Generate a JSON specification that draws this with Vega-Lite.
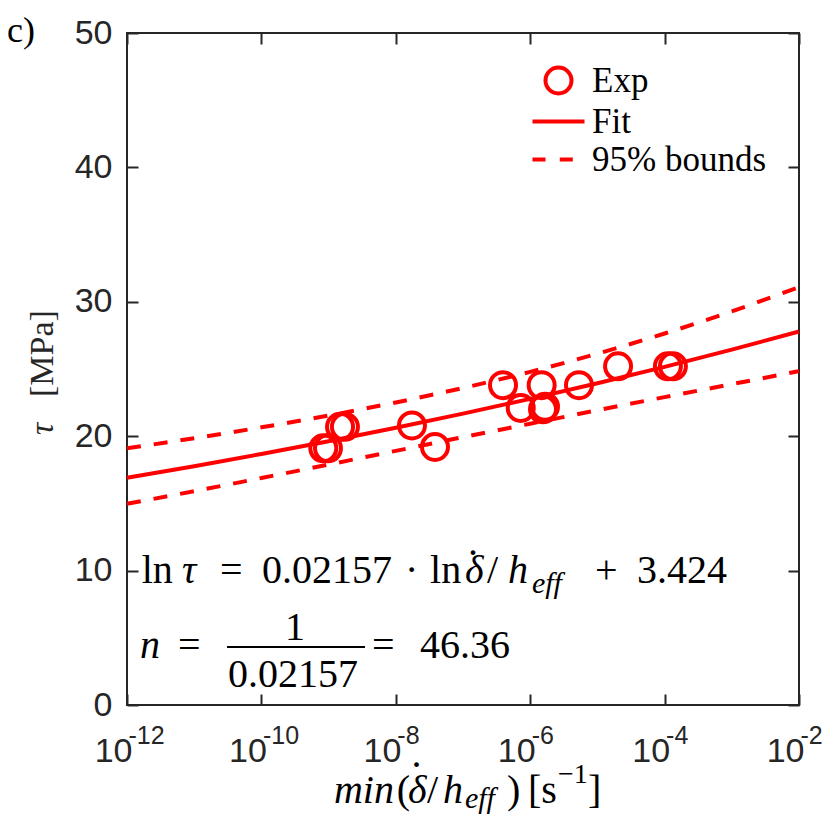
{
  "$schema": "https://vega.github.io/schema/vega-lite/v6.json",
  "width": 672,
  "height": 672,
  "autosize": {"type": "none"},
  "padding": {"left": 127, "top": 33, "right": 31, "bottom": 114},
  "background": "white",
  "datasets": {
    "exp": [
      {"rate": 8.34e-10, "tau": 19.1, "series": "Exp"},
      {"rate": 9.79e-10, "tau": 19.1, "series": "Exp"},
      {"rate": 1.48e-9, "tau": 20.7, "series": "Exp"},
      {"rate": 1.75e-9, "tau": 20.7, "series": "Exp"},
      {"rate": 1.74e-8, "tau": 20.8, "series": "Exp"},
      {"rate": 3.83e-8, "tau": 19.2, "series": "Exp"},
      {"rate": 3.94e-7, "tau": 23.8, "series": "Exp"},
      {"rate": 7.23e-7, "tau": 22.1, "series": "Exp"},
      {"rate": 1.48e-6, "tau": 23.8, "series": "Exp"},
      {"rate": 1.66e-6, "tau": 22.2, "series": "Exp"},
      {"rate": 1.55e-6, "tau": 22.0, "series": "Exp"},
      {"rate": 5.32e-6, "tau": 23.8, "series": "Exp"},
      {"rate": 2.03e-5, "tau": 25.2, "series": "Exp"},
      {"rate": 1.12e-4, "tau": 25.2, "series": "Exp"},
      {"rate": 1.33e-4, "tau": 25.2, "series": "Exp"}
    ],
    "fit": [
      {"rate": 1e-12, "tau": 16.91},
      {"rate": 1e-11, "tau": 17.77},
      {"rate": 1e-10, "tau": 18.68},
      {"rate": 1e-9, "tau": 19.63},
      {"rate": 1e-8, "tau": 20.63},
      {"rate": 1e-7, "tau": 21.68},
      {"rate": 1e-6, "tau": 22.78},
      {"rate": 1e-5, "tau": 23.94},
      {"rate": 1e-4, "tau": 25.16},
      {"rate": 1e-3, "tau": 26.44},
      {"rate": 1e-2, "tau": 27.79}
    ],
    "bounds": [
      {"rate": 1e-12, "tau": 19.10, "bound": "upper"},
      {"rate": 1e-11, "tau": 19.85, "bound": "upper"},
      {"rate": 1e-10, "tau": 20.66, "bound": "upper"},
      {"rate": 1e-9, "tau": 21.54, "bound": "upper"},
      {"rate": 1e-8, "tau": 22.51, "bound": "upper"},
      {"rate": 1e-7, "tau": 23.59, "bound": "upper"},
      {"rate": 1e-6, "tau": 24.79, "bound": "upper"},
      {"rate": 1e-5, "tau": 26.14, "bound": "upper"},
      {"rate": 1e-4, "tau": 27.64, "bound": "upper"},
      {"rate": 1e-3, "tau": 29.29, "bound": "upper"},
      {"rate": 1e-2, "tau": 31.09, "bound": "upper"},
      {"rate": 1e-12, "tau": 14.97, "bound": "lower"},
      {"rate": 1e-11, "tau": 15.91, "bound": "lower"},
      {"rate": 1e-10, "tau": 16.89, "bound": "lower"},
      {"rate": 1e-9, "tau": 17.89, "bound": "lower"},
      {"rate": 1e-8, "tau": 18.91, "bound": "lower"},
      {"rate": 1e-7, "tau": 19.93, "bound": "lower"},
      {"rate": 1e-6, "tau": 20.93, "bound": "lower"},
      {"rate": 1e-5, "tau": 21.93, "bound": "lower"},
      {"rate": 1e-4, "tau": 22.91, "bound": "lower"},
      {"rate": 1e-3, "tau": 23.87, "bound": "lower"},
      {"rate": 1e-2, "tau": 24.84, "bound": "lower"}
    ],
    "upright": [
      {"x": 1.656e-12, "y": 9.08, "t": "ln"},
      {"x": 2.42e-11, "y": 9.08, "t": "="},
      {"x": 1.02e-10, "y": 9.08, "t": "0.02157"},
      {"x": 1.37e-8, "y": 9.08, "t": "\u00b7"},
      {"x": 3.23e-8, "y": 9.08, "t": "ln"},
      {"x": 1.19e-7, "y": 11.16, "t": "."},
      {"x": 2.28e-7, "y": 9.08, "t": "/"},
      {"x": 9.2e-6, "y": 9.08, "t": "+"},
      {"x": 3.88e-5, "y": 9.08, "t": "3.424"},
      {"x": 5.74e-12, "y": 3.5, "t": "="},
      {"x": 2.24e-10, "y": 4.84, "t": "1"},
      {"x": 3.18e-11, "y": 1.34, "t": "0.02157"},
      {"x": 4.43e-9, "y": 3.5, "t": "="},
      {"x": 2.29e-8, "y": 3.5, "t": "46.36"},
      {"x": 1.03e-8, "y": -7.29, "t": "("},
      {"x": 1.71e-8, "y": -4.61, "t": "."},
      {"x": 2.91e-8, "y": -7.29, "t": "/"},
      {"x": 4.52e-7, "y": -7.29, "t": ")"},
      {"x": 9.27e-7, "y": -7.29, "t": "[s"},
      {"x": 7.24e-6, "y": -7.29, "t": "]"}
    ],
    "italic": [
      {"x": 6.58e-12, "y": 9.08, "t": "\u03c4"},
      {"x": 1.07e-7, "y": 9.08, "t": "\u03b4"},
      {"x": 4.68e-7, "y": 9.08, "t": "h"},
      {"x": 1.56e-12, "y": 3.5, "t": "n"},
      {"x": 1.2e-9, "y": -7.29, "t": "min"},
      {"x": 1.52e-8, "y": -7.29, "t": "\u03b4"},
      {"x": 5.04e-8, "y": -7.29, "t": "h"}
    ],
    "subscript": [
      {"x": 1.06e-6, "y": 8.33, "t": "eff"},
      {"x": 1.07e-7, "y": -7.66, "t": "eff"}
    ],
    "superscript": [
      {"x": 2.59e-6, "y": -5.8, "t": "\u22121"}
    ],
    "panel": [
      {"x": 1.64e-14, "y": 49.33, "t": "c)"}
    ],
    "ytitle_italic": [
      {"x": 7.92e-14, "y": 20.09, "t": "\u03c4"}
    ],
    "ytitle_upright": [
      {"x": 7.92e-14, "y": 22.92, "t": "[MPa]"}
    ],
    "bar": [
      {"x": 3.08e-11, "x2": 3.48e-9, "y": 4.32}
    ]
  },
  "layer": [
    {
      "data": {"name": "bounds"},
      "mark": {"type": "line", "color": "#ff0000", "strokeWidth": 4, "strokeDash": [14, 13], "interpolate": "monotone"},
      "encoding": {
        "x": {"field": "rate", "type": "quantitative", "scale": {"type": "log", "domain": [1e-12, 1e-2]},
          "axis": {"orient": "bottom", "values": [1e-12, 1e-10, 1e-8, 1e-6, 1e-4, 1e-2], "labels": false, "tickSize": -11, "title": null}},
        "y": {"field": "tau", "type": "quantitative", "scale": {"domain": [0, 50]},
          "axis": {"orient": "left", "values": [0, 10, 20, 30, 40, 50], "labels": false, "tickSize": -11, "title": null}},
        "detail": {"field": "bound", "type": "nominal"}
      }
    },
    {
      "data": {"name": "fit"},
      "mark": {"type": "line", "color": "#ff0000", "strokeWidth": 4, "interpolate": "monotone"},
      "encoding": {
        "x": {"field": "rate", "type": "quantitative", "scale": {"type": "log", "domain": [1e-12, 1e-2]},
          "axis": {"orient": "top", "values": [1e-12, 1e-10, 1e-8, 1e-6, 1e-4, 1e-2], "labels": false, "tickSize": -11, "title": null}},
        "y": {"field": "tau", "type": "quantitative", "scale": {"domain": [0, 50]},
          "axis": {"orient": "right", "values": [0, 10, 20, 30, 40, 50], "labels": false, "tickSize": -11, "title": null}}
      }
    },
    {
      "data": {"name": "exp"},
      "mark": {"type": "point", "filled": false, "color": "#ff0000", "strokeWidth": 4, "size": 676, "opacity": 1},
      "encoding": {
        "x": {"field": "rate", "type": "quantitative", "scale": {"type": "log", "domain": [1e-12, 1e-2]},
          "axis": {"orient": "bottom", "values": [1e-12, 1e-10, 1e-8, 1e-6, 1e-4, 1e-2], "ticks": false, "tickSize": 0,
            "labelExpr": "datum.value < 1e-9 ? '10\u00a0' : '10'", "labelAlign": "right", "labelOffset": 5,
            "labelBaseline": "alphabetic", "labelPadding": 56, "labelFontSize": 34, "title": null}},
        "y": {"field": "tau", "type": "quantitative", "scale": {"domain": [0, 50]},
          "axis": {"orient": "left", "values": [0, 10, 20, 30, 40, 50], "ticks": false, "tickSize": 0,
            "labelPadding": 15, "labelFontSize": 34, "labelBaseline": "middle", "title": null}},
        "shape": {"field": "series", "type": "nominal",
          "scale": {"domain": ["Exp", "Fit", "95% bounds"], "range": ["circle", "M-2,0H2", "M-2,0H-1M0.1,0H1.1"]},
          "legend": {"title": null, "orient": "none", "legendX": 414, "legendY": 30, "padding": 0,
            "labelFont": "Liberation Serif", "labelFontSize": 35, "labelColor": "black", "labelOffset": 16, "labelLimit": 400,
            "symbolSize": 676, "symbolStrokeWidth": 4, "symbolStrokeColor": "#ff0000", "symbolFillColor": "transparent",
            "symbolOpacity": 1, "rowPadding": 2}}
      }
    },
    {
      "data": {"name": "upright"},
      "mark": {"type": "text", "align": "left", "baseline": "alphabetic", "font": "Liberation Serif", "fontSize": 40, "color": "black"},
      "encoding": {
        "x": {"field": "x", "type": "quantitative", "scale": {"type": "log", "domain": [1e-12, 1e-2]},
          "axis": {"orient": "bottom", "values": [1e-12, 1e-10, 1e-8, 1e-6, 1e-4, 1e-2], "ticks": false, "tickSize": 0,
            "labelExpr": "(datum.value < 1e-9 ? '' : '\u00a0') + '-' + (-round(log(datum.value) / LN10))",
            "labelAlign": "left", "labelOffset": 1, "labelBaseline": "alphabetic", "labelPadding": 38,
            "labelFontSize": 25, "title": null}},
        "y": {"field": "y", "type": "quantitative", "scale": {"domain": [0, 50]}, "axis": null},
        "text": {"field": "t", "type": "nominal"}
      }
    },
    {
      "data": {"name": "italic"},
      "mark": {"type": "text", "align": "left", "baseline": "alphabetic", "font": "Liberation Serif", "fontStyle": "italic", "fontSize": 40, "color": "black"},
      "encoding": {
        "x": {"field": "x", "type": "quantitative", "scale": {"type": "log", "domain": [1e-12, 1e-2]}, "axis": null},
        "y": {"field": "y", "type": "quantitative", "scale": {"domain": [0, 50]}, "axis": null},
        "text": {"field": "t", "type": "nominal"}
      }
    },
    {
      "data": {"name": "subscript"},
      "mark": {"type": "text", "align": "left", "baseline": "alphabetic", "font": "Liberation Serif", "fontStyle": "italic", "fontSize": 30, "color": "black"},
      "encoding": {
        "x": {"field": "x", "type": "quantitative", "scale": {"type": "log", "domain": [1e-12, 1e-2]}, "axis": null},
        "y": {"field": "y", "type": "quantitative", "scale": {"domain": [0, 50]}, "axis": null},
        "text": {"field": "t", "type": "nominal"}
      }
    },
    {
      "data": {"name": "superscript"},
      "mark": {"type": "text", "align": "left", "baseline": "alphabetic", "font": "Liberation Serif", "fontSize": 28, "color": "black"},
      "encoding": {
        "x": {"field": "x", "type": "quantitative", "scale": {"type": "log", "domain": [1e-12, 1e-2]}, "axis": null},
        "y": {"field": "y", "type": "quantitative", "scale": {"domain": [0, 50]}, "axis": null},
        "text": {"field": "t", "type": "nominal"}
      }
    },
    {
      "data": {"name": "panel"},
      "mark": {"type": "text", "align": "left", "baseline": "alphabetic", "font": "Liberation Serif", "fontSize": 36, "color": "black"},
      "encoding": {
        "x": {"field": "x", "type": "quantitative", "scale": {"type": "log", "domain": [1e-12, 1e-2]}, "axis": null},
        "y": {"field": "y", "type": "quantitative", "scale": {"domain": [0, 50]}, "axis": null},
        "text": {"field": "t", "type": "nominal"}
      }
    },
    {
      "data": {"name": "ytitle_italic"},
      "mark": {"type": "text", "align": "left", "baseline": "alphabetic", "angle": 270, "font": "Liberation Serif", "fontStyle": "italic", "fontSize": 34, "color": "#262626"},
      "encoding": {
        "x": {"field": "x", "type": "quantitative", "scale": {"type": "log", "domain": [1e-12, 1e-2]}, "axis": null},
        "y": {"field": "y", "type": "quantitative", "scale": {"domain": [0, 50]}, "axis": null},
        "text": {"field": "t", "type": "nominal"}
      }
    },
    {
      "data": {"name": "ytitle_upright"},
      "mark": {"type": "text", "align": "left", "baseline": "alphabetic", "angle": 270, "font": "Liberation Serif", "fontSize": 34, "color": "#262626"},
      "encoding": {
        "x": {"field": "x", "type": "quantitative", "scale": {"type": "log", "domain": [1e-12, 1e-2]}, "axis": null},
        "y": {"field": "y", "type": "quantitative", "scale": {"domain": [0, 50]}, "axis": null},
        "text": {"field": "t", "type": "nominal"}
      }
    },
    {
      "data": {"name": "bar"},
      "mark": {"type": "rule", "color": "black", "strokeWidth": 2},
      "encoding": {
        "x": {"field": "x", "type": "quantitative", "scale": {"type": "log", "domain": [1e-12, 1e-2]}, "axis": null},
        "x2": {"field": "x2"},
        "y": {"field": "y", "type": "quantitative", "scale": {"domain": [0, 50]}, "axis": null}
      }
    }
  ],
  "resolve": {"axis": {"x": "independent", "y": "independent"}},
  "config": {
    "view": {"stroke": "#262626", "strokeWidth": 2},
    "axis": {
      "grid": false,
      "domain": false,
      "labelFont": "Liberation Sans",
      "labelColor": "#262626",
      "tickColor": "#262626",
      "tickWidth": 2
    }
  }
}
